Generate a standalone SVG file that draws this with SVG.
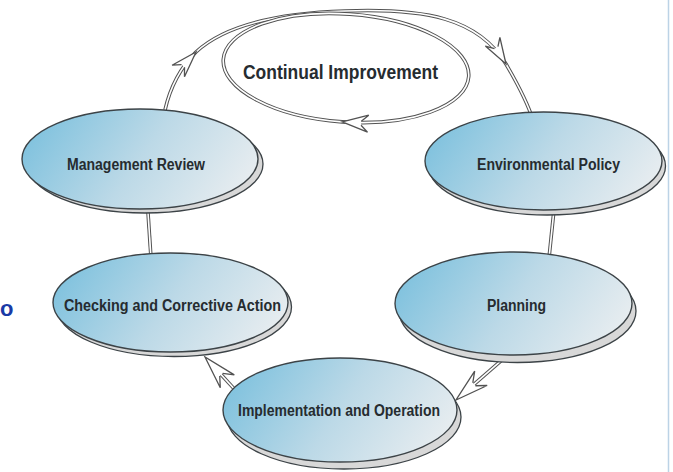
<svg xmlns="http://www.w3.org/2000/svg" width="673" height="472" viewBox="0 0 673 472">
<defs>
<linearGradient id="discGrad" x1="0" y1="0.35" x2="1" y2="0.65">
<stop offset="0" stop-color="#80c2de"/>
<stop offset="0.5" stop-color="#bcd9e7"/>
<stop offset="1" stop-color="#e8edf0"/>
</linearGradient>
<path id="ahS" d="M-19,-2 L-26,-8.5 L0,0 L-26,8.5 L-19,2"/>
<path id="ahL" d="M-24,-2 L-33,-9.5 L0,0 L-33,9.5 L-24,2"/>
<style>
.o{fill:none;stroke:#525252;stroke-width:3.6}
.i{fill:none;stroke:#ffffff;stroke-width:1.6}
.ah{fill:#ffffff;stroke:#525252;stroke-width:1.3;stroke-linejoin:miter}
.disc{fill:url(#discGrad);stroke:#3c4347;stroke-width:1.4}
.rim{fill:#d8d8d8;stroke:#3c4347;stroke-width:1.3}
.lbl{font-family:"Liberation Sans",Arial,sans-serif;font-weight:bold;font-size:16px;fill:#262c30;text-anchor:middle}
</style>
</defs>
<rect width="673" height="472" fill="#ffffff"/>
<line x1="668.5" y1="0" x2="668.5" y2="472" stroke="#bcd3e6" stroke-width="1.5"/>
<text x="0" y="316" font-family="Liberation Sans, Arial, sans-serif" font-weight="bold" font-size="22" fill="#1a3aa6">o</text>

<g id="connectors">
<g id="c-cycle-top">
<path class="o" d="M165,110 C170,88 180,68 196,52 C225,25 280,13 345,11 C425,8 478,18 506,64 C514,78 526,98 533,120"/>
<path class="i" d="M165,110 C170,88 180,68 196,52 C225,25 280,13 345,11 C425,8 478,18 506,64 C514,78 526,98 533,120"/>
<use href="#ahS" class="ah" transform="translate(196,52) rotate(-47)"/>
<use href="#ahS" class="ah" transform="translate(506,64) rotate(59)"/>
</g>
<g id="c-policy-planning">
<line class="o" x1="554.5" y1="205" x2="549" y2="258"/>
<line class="i" x1="554.5" y1="205" x2="549" y2="258"/>
</g>
<g id="c-planning-implementation" transform="translate(456,400) rotate(139)">
<line class="o" x1="-20" y1="0" x2="-66" y2="0"/>
<line class="i" x1="-20" y1="0" x2="-66" y2="0"/>
<use href="#ahL" class="ah"/>
</g>
<g id="c-implementation-checking" transform="translate(205,357) rotate(-132.5)">
<line class="o" x1="-20" y1="0" x2="-48" y2="0"/>
<line class="i" x1="-20" y1="0" x2="-48" y2="0"/>
<use href="#ahL" class="ah"/>
</g>
<g id="c-checking-review">
<line class="o" x1="147.5" y1="205" x2="151" y2="258"/>
<line class="i" x1="147.5" y1="205" x2="151" y2="258"/>
</g>
</g>

<g id="node-continual">
<ellipse class="o" cx="346" cy="68" rx="123" ry="54" transform="rotate(4 346 68)"/>
<ellipse class="i" cx="346" cy="68" rx="123" ry="54" transform="rotate(4 346 68)"/>
<use href="#ahS" class="ah" transform="translate(342.2,121.9) rotate(184)"/>
<text class="lbl" x="340.5" y="79" style="font-size:19.5px" textLength="195" lengthAdjust="spacingAndGlyphs">Continual Improvement</text>
</g>

<g id="node-review">
<ellipse class="rim" cx="145" cy="164" rx="118" ry="49"/>
<ellipse class="disc" cx="140" cy="159" rx="118" ry="50"/>
<text class="lbl" x="136" y="170" textLength="138" lengthAdjust="spacingAndGlyphs">Management Review</text>
</g>

<g id="node-policy">
<ellipse class="rim" cx="547" cy="166" rx="118.5" ry="49"/>
<ellipse class="disc" cx="543.5" cy="161" rx="118.5" ry="49"/>
<text class="lbl" x="548.5" y="170" textLength="143" lengthAdjust="spacingAndGlyphs">Environmental Policy</text>
</g>

<g id="node-planning">
<ellipse class="rim" cx="517.5" cy="311" rx="118.5" ry="51.5"/>
<ellipse class="disc" cx="513.5" cy="303.5" rx="118.5" ry="51.5"/>
<text class="lbl" x="516.5" y="311" textLength="59" lengthAdjust="spacingAndGlyphs">Planning</text>
</g>

<g id="node-implementation">
<ellipse class="rim" cx="344" cy="417" rx="117" ry="52"/>
<ellipse class="disc" cx="340" cy="410" rx="117" ry="52"/>
<text class="lbl" x="339" y="416" textLength="202" lengthAdjust="spacingAndGlyphs">Implementation and Operation</text>
</g>

<g id="node-checking">
<ellipse class="rim" cx="174" cy="307" rx="117.5" ry="49.5"/>
<ellipse class="disc" cx="170.5" cy="302.5" rx="117.5" ry="49.5"/>
<text class="lbl" x="172.5" y="310.5" textLength="217" lengthAdjust="spacingAndGlyphs">Checking and Corrective Action</text>
</g>
</svg>
